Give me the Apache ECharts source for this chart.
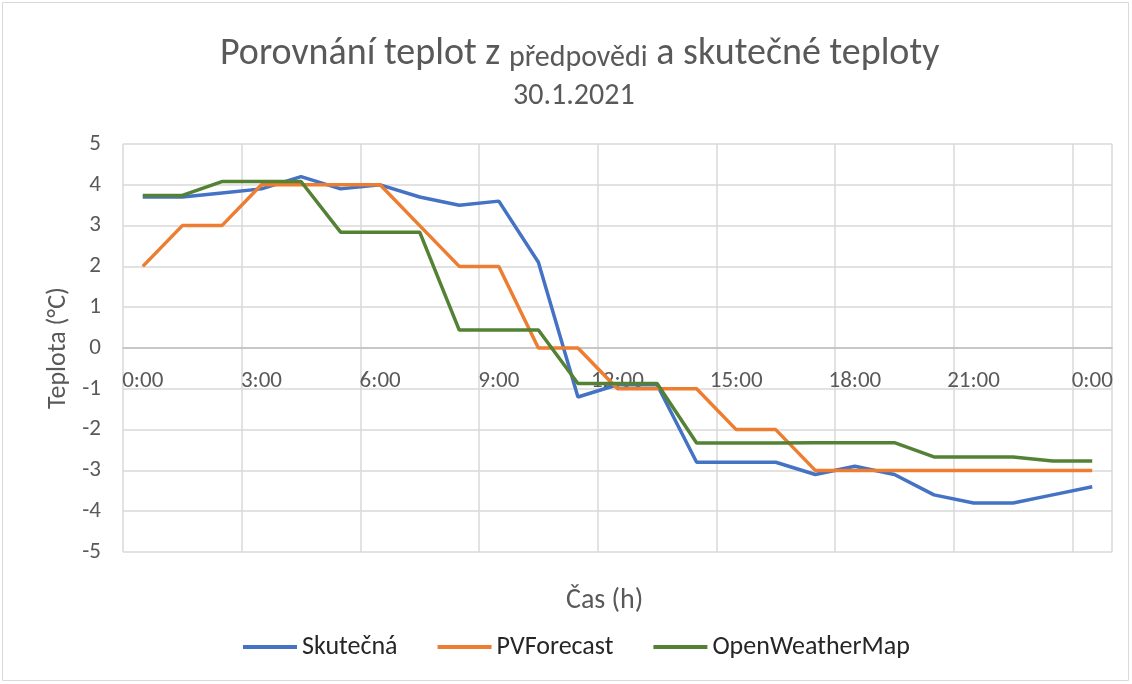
<!DOCTYPE html>
<html>
<head>
<meta charset="utf-8">
<script src="https://cdn.jsdelivr.net/npm/echarts@6/dist/echarts.min.js"></script>
<style>
  html, body { margin: 0; padding: 0; background: #fff; }
  #chart { width: 1132px; height: 684px; }
</style>
</head>
<body>
<div id="chart"></div>
<script>
// hodiny 0:00 .. 0:00 dalšího dne
var hours = ['0:00','1:00','2:00','3:00','4:00','5:00','6:00','7:00','8:00','9:00','10:00','11:00',
             '12:00','13:00','14:00','15:00','16:00','17:00','18:00','19:00','20:00','21:00','22:00','23:00','0:00'];
var skutecna = [3.7, 3.7, 3.8, 3.9, 4.2, 3.9, 4.0, 3.7, 3.5, 3.6, 2.1, -1.2,
                -0.9, -0.9, -2.8, -2.8, -2.8, -3.1, -2.9, -3.1, -3.6, -3.8, -3.8, -3.6, -3.4];
var pvForecast = [2, 3, 3, 4, 4, 4, 4, 3, 2, 2, 0, 0,
                  -1, -1, -1, -2, -2, -3, -3, -3, -3, -3, -3, -3, -3];
var openWeather = [3.74, 3.74, 4.08, 4.08, 4.08, 2.84, 2.84, 2.84, 0.44, 0.44, 0.44, -0.87,
                   -0.87, -0.87, -2.33, -2.33, -2.33, -2.32, -2.32, -2.32, -2.67, -2.67, -2.67, -2.77, -2.77];
var yTicks = [-5, 5, 1];

var font = 'Carlito, "Liberation Sans Narrow", "DejaVu Sans Condensed", "Noto Sans", sans-serif';
var grey = '#595959';

var chart = echarts.init(document.getElementById('chart'));
var option = {
  animation: false,
  color: ['#4472C4', '#ED7D31', '#548235'],
  textStyle: { fontFamily: font },
  title: [{
    left: 215,
    top: 30,
    text: '{a|Porovnání teplot z }{b|předpovědi}{a| a skutečné teploty}',
    textStyle: {
      rich: {
        a: { fontFamily: font, fontSize: 38, fontWeight: 'normal', color: grey },
        b: { fontFamily: font, fontSize: 30, fontWeight: 'normal', color: grey, verticalAlign: 'bottom' }
      }
    }
  }, {
    left: 508,
    top: 76,
    text: '30.1.2021',
    textStyle: { fontFamily: font, fontSize: 30, fontWeight: 'normal', color: grey }
  }, {
    left: 561,
    top: 582,
    text: 'Čas (h)',
    textStyle: { fontFamily: font, fontSize: 28, fontWeight: 'normal', color: grey }
  }],
  legend: {
    left: 238,
    top: 629,
    icon: 'rect',
    itemWidth: 54,
    itemHeight: 4,
    itemGap: 40,
    textStyle: { fontFamily: font, fontSize: 26, color: '#262626' },
    data: ['Skutečná', 'PVForecast', 'OpenWeatherMap']
  },
  grid: { left: 123, right: 20, top: 144, bottom: 132 },
  xAxis: {
    type: 'category',
    data: hours,
    boundaryGap: true,
    offset: -204,
    axisLine: { onZero: false, lineStyle: { color: '#bfbfbf', width: 1.5 } },
    axisTick: { show: false },
    axisLabel: { interval: 2, margin: 22, fontSize: 23, color: grey, fontFamily: font },
    splitLine: {
      show: true,
      interval: function (i) { return i % 3 === 0 && i <= 24; },
      lineStyle: { color: '#d9d9d9', width: 1.5 }
    }
  },
  yAxis: {
    type: 'value',
    min: yTicks[0],
    max: yTicks[1],
    interval: yTicks[2],
    name: 'Teplota (°C)',
    nameLocation: 'middle',
    nameGap: 46,
    nameTextStyle: { fontFamily: font, fontSize: 26, color: grey },
    axisLine: { show: false },
    axisTick: { show: false },
    axisLabel: { margin: 22, fontSize: 23, color: grey, fontFamily: font },
    splitLine: { lineStyle: { color: '#d9d9d9', width: 1.5 } }
  },
  series: [
    { name: 'Skutečná', type: 'line', data: skutecna, symbol: 'none', lineStyle: { width: 3.5 } },
    { name: 'PVForecast', type: 'line', data: pvForecast, symbol: 'none', lineStyle: { width: 3.5 } },
    { name: 'OpenWeatherMap', type: 'line', data: openWeather, symbol: 'none', lineStyle: { width: 3.5 } }
  ],
  graphic: [{
    type: 'rect',
    shape: { x: 2.5, y: 2.5, width: 1126, height: 678 },
    style: { fill: 'none', stroke: '#d9d9d9', lineWidth: 1 },
    silent: true
  }]
};
chart.setOption(option);
</script>
</body>
</html>
